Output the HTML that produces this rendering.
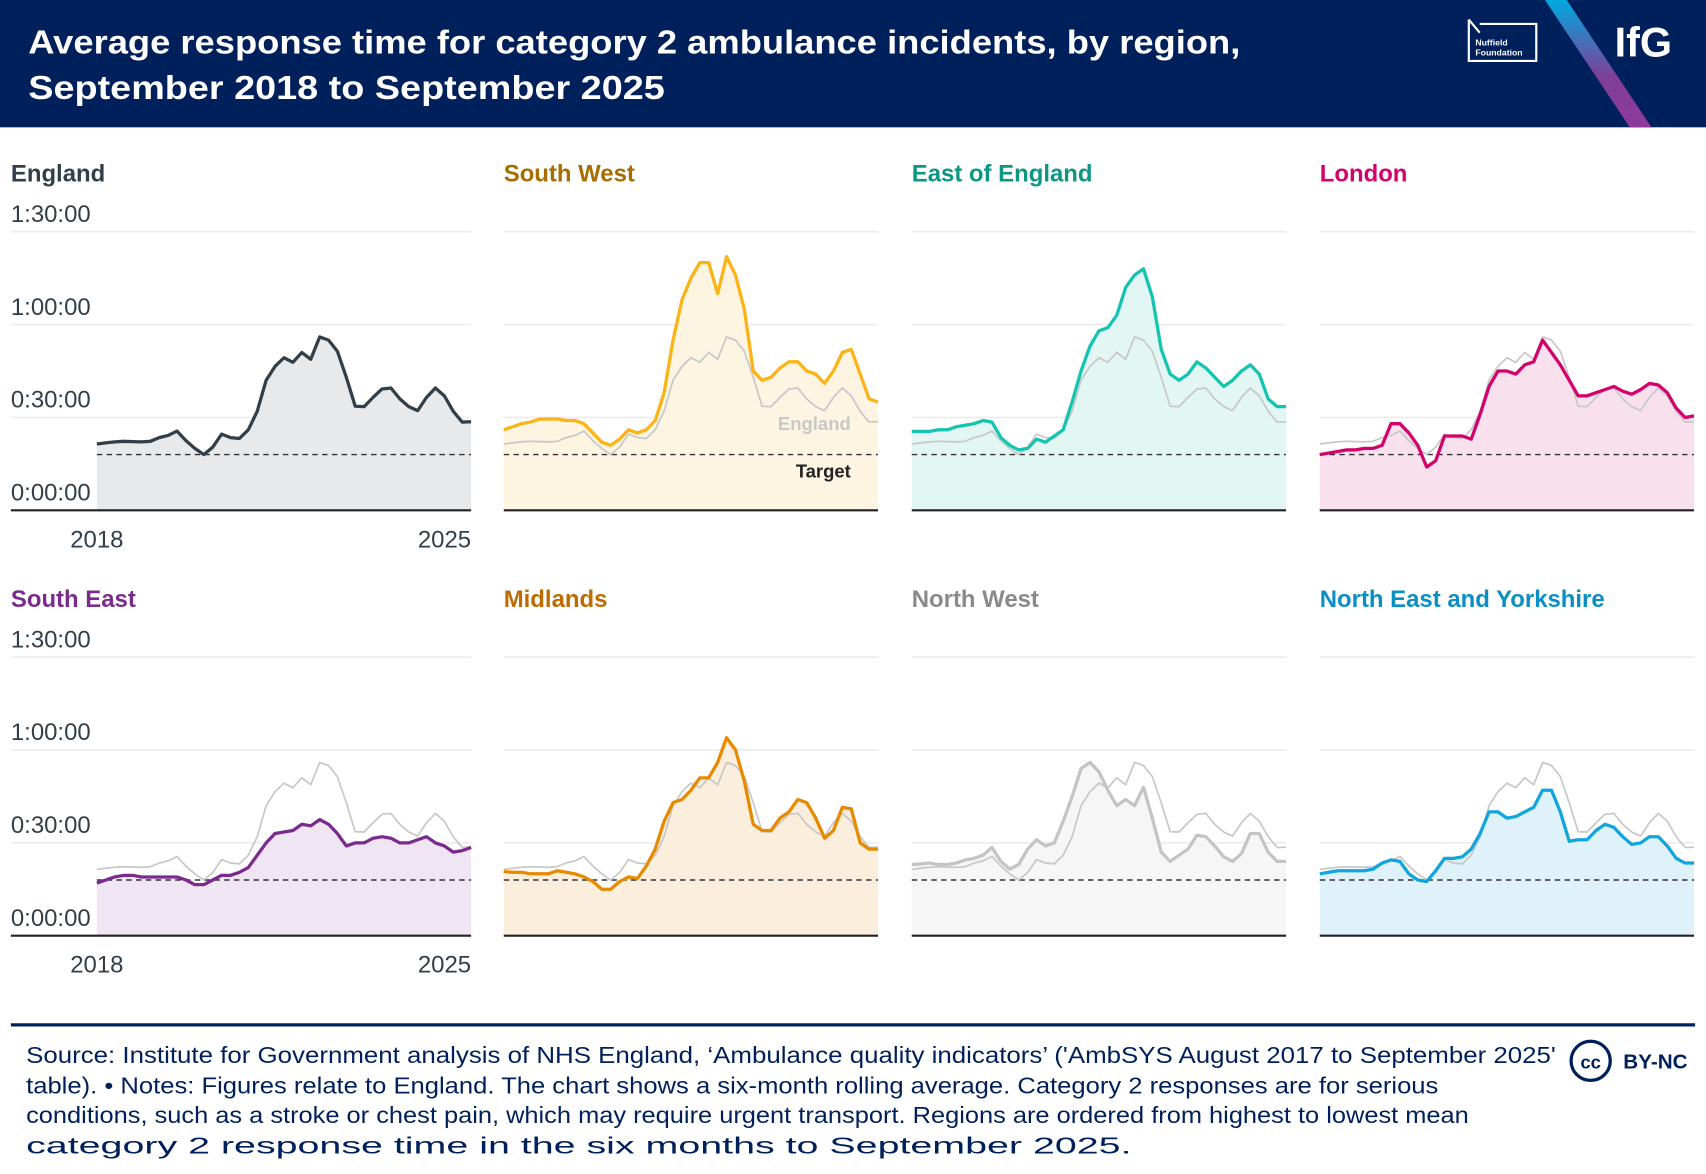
<!DOCTYPE html>
<html><head><meta charset="utf-8"><style>
html,body{margin:0;padding:0;background:#fff;}
svg{display:block;font-family:"Liberation Sans",sans-serif;}
</style></head><body>
<svg id="chart" width="1706" height="1174" viewBox="0 0 1568 1079" xmlns="http://www.w3.org/2000/svg">
<rect x="0" y="0" width="1568" height="117" fill="#00205b"/>
<text x="26" y="49" fill="#fff" font-size="31" font-weight="bold" textLength="1114" lengthAdjust="spacingAndGlyphs">Average response time for category 2 ambulance incidents, by region,</text>
<text x="26" y="91" fill="#fff" font-size="31" font-weight="bold" textLength="585" lengthAdjust="spacingAndGlyphs">September 2018 to September 2025</text>
<defs><linearGradient id="stripe" x1="0" y1="0" x2="0" y2="1"><stop offset="0" stop-color="#00a9e0"/><stop offset="0.6" stop-color="#7f3f98"/><stop offset="1" stop-color="#8e3a9a"/></linearGradient></defs>
<polygon points="1420,0 1440,0 1518,117 1498,117" fill="url(#stripe)"/>
<g>
<path d="M1350,18 L1350,56 L1412,56 L1412,22 L1360,22 M1350,18 L1360,30" fill="none" stroke="#fff" stroke-width="2"/>
<text x="1356" y="42" fill="#fff" font-size="8" font-weight="bold">Nuffield</text>
<text x="1356" y="51" fill="#fff" font-size="8" font-weight="bold">Foundation</text>
</g>
<text x="1484" y="52" fill="#fff" font-size="38" font-weight="bold">IfG</text>
<g id="panels"></g>
<line x1="10" y1="942" x2="1558" y2="942" stroke="#00205b" stroke-width="3"/>
<g fill="#00205b" font-size="21" lengthAdjust="spacingAndGlyphs">
<text x="24" y="977" textLength="1406" lengthAdjust="spacingAndGlyphs">Source: Institute for Government analysis of NHS England, ‘Ambulance quality indicators’ ('AmbSYS August 2017 to September 2025'</text>
<text x="24" y="1005" textLength="1298" lengthAdjust="spacingAndGlyphs">table). • Notes: Figures relate to England. The chart shows a six-month rolling average. Category 2 responses are for serious</text>
<text x="24" y="1032" textLength="1326" lengthAdjust="spacingAndGlyphs">conditions, such as a stroke or chest pain, which may require urgent transport. Regions are ordered from highest to lowest mean</text>
<text x="24" y="1060" textLength="1016" lengthAdjust="spacingAndGlyphs">category 2 response time in the six months to September 2025.</text>
</g>
<g>
<circle cx="1462" cy="975" r="18" fill="#fff" stroke="#00205b" stroke-width="3"/>
<text x="1462" y="982" text-anchor="middle" fill="#00205b" font-size="17" font-weight="bold">cc</text>
<text x="1492" y="982" fill="#00205b" font-size="19" font-weight="bold">BY-NC</text>
</g>
</svg>
<script>
// Bimonthly points Sep 2018 .. Sep 2025 (minutes)
const england = [21.4,21.8,22.1,22.3,22.2,22.1,22.3,23.5,24.2,25.6,22.5,20,18,20.4,24.6,23.5,23.2,26,32,42,46.5,49.3,47.8,51,48.8,56,55,51.4,43,33.6,33.5,36.5,39.2,39.5,36,33.5,32.2,36.5,39.5,37,32,28.5,28.6];
const southWest = [26,27,28,28.5,29.5,29.5,29.5,29,29,28,25,22,21,23,26,25,26,29,38,55,68,75,80,80,70,82,76,65,45,42,43,46,48,48,45,44,41,45,51,52,44,36,35];
const eastOfEngland = [25.5,25.5,25.5,26,26,27,27.5,28,29,28.5,23.5,21,19.5,20,23,22,24,26,35,45,53,58,59,63,72,76,78,69,52,44,42,44,48,46,43,40,42,45,47,44,36,33.5,33.5];
const london = [18,18.5,19,19.5,19.5,20,20,21,28,28,25,21,14,16,24,24,24,23,31,40,45,45,44,47,48,55,51,47,42,37,37,38,39,40,38.5,37.5,39,41,40.5,38,33,30,30.5];
const southEast = [17,18,19,19.5,19.5,19,19,19,19,19,18,16.5,16.5,18,19.5,19.5,20.5,22,26,30,33,33.5,34,36,35.5,37.5,36,33,29,30,30,31.5,32,31.5,30,30,31,32,30,29,27,27.5,28.5];
const midlands = [20.7,20.5,20.5,20,20,20,21,20.5,20,19,17.5,15,15,17.5,19,18.5,22.5,28,37,43,44,47,51,51,56,64,60,50,36,34,34,38,40,44,43,38,31.5,34,41.5,41,30,28,28];
const northWest = [23,23.2,23.5,23,23,23.5,24.5,25,26,28.5,24,21.5,23,28,31,29,30,37,45,54,56,53,47,42,44,42,48,38,27,24,26,28,32.5,32,29,25.5,24,26.5,33,33,27,24,24];
const northEastYorks = [20,20.5,21,21,21,21,21.5,23.5,24.5,24,20,18,17.5,21,25,25,25.5,28,33,40,40,38,38.5,40,41.5,47,47,40,30.5,31,31,34,36,35,32,29.5,30,32,32,29,25,23.5,23.5];
const yTickValues = [0,30,60,90];
const yTickLabels = ["0:00:00","0:30:00","1:00:00","1:30:00"];
const xTickLabels = ["2018","2025"];
const targetValue = 18;
const regionNames = ["England","South West","East of England","London","South East","Midlands","North West","North East and Yorkshire"];

const panels=[
 {name:"England",data:england,line:"#333f48",fill:"#e8e9ea",title:"#333f48",col:0,row:0},
 {name:"South West",data:southWest,line:"#fbb316",fill:"#fdf4e2",title:"#a86d00",col:1,row:0},
 {name:"East of England",data:eastOfEngland,line:"#13c4b0",fill:"#e2f6f4",title:"#0c9785",col:2,row:0},
 {name:"London",data:london,line:"#d4006c",fill:"#f8e1ed",title:"#d4006c",col:3,row:0},
 {name:"South East",data:southEast,line:"#7b2a8e",fill:"#efe5f3",title:"#7b2a8e",col:0,row:1},
 {name:"Midlands",data:midlands,line:"#e88a00",fill:"#fbeedd",title:"#c06b00",col:1,row:1},
 {name:"North West",data:northWest,line:"#c4c4c4",fill:"#f6f6f6",title:"#8a8a8a",col:2,row:1},
 {name:"North East and Yorkshire",data:northEastYorks,line:"#10a5de",fill:"#dff2fa",title:"#0a8fc4",col:3,row:1}
];
const NS="http://www.w3.org/2000/svg";
const root=document.getElementById('panels');
function mk(tag,attrs,parent){const e=document.createElementNS(NS,tag);for(const k in attrs)e.setAttribute(k,attrs[k]);parent.appendChild(e);return e;}
const colX=[89,463,838,1213], W=344, rowBase=[469,860], pxPerMin=256/90;
panels.forEach((p,i)=>{
  const g=mk('g',{},root);
  
  
  const x0=colX[p.col], base=rowBase[p.row];
  const gx0 = p.col===0?10:x0;
  const xs=k=>x0+k*W/(p.data.length-1);
  const ys=v=>base-v*pxPerMin;
  yTickValues.forEach((v,j)=>{ if(v===0) return;
    const l=mk('line',{x1:gx0,x2:x0+W,y1:ys(v),y2:ys(v),stroke:'#ececec','stroke-width':1.5},g);
    
    
  });
  let d='M'+xs(0)+','+base;
  p.data.forEach((v,k)=>{d+=' L'+xs(k).toFixed(1)+','+ys(v).toFixed(1);});
  d+=' L'+xs(p.data.length-1)+','+base+' Z';
  const a=mk('path',{d:d,fill:p.fill},g);
  
  
  const t=mk('line',{x1:x0,x2:x0+W,y1:ys(targetValue),y2:ys(targetValue),stroke:'#333','stroke-width':1.3,'stroke-dasharray':'5,4'},g);
  
  
  if(i>0){
    const r=mk('path',{d:'M'+england.map((v,k)=>xs(k).toFixed(1)+','+ys(v).toFixed(1)).join(' L'),fill:'none',stroke:'#c8c8c8','stroke-width':1.6,'stroke-linejoin':'round'},g);
    
    
  }
  const ln=mk('path',{d:'M'+p.data.map((v,k)=>xs(k).toFixed(1)+','+ys(v).toFixed(1)).join(' L'),fill:'none',stroke:p.line,'stroke-width':3,'stroke-linejoin':'round'},g);
  
  
  const ax=mk('line',{x1:gx0,x2:x0+W,y1:base,y2:base,stroke:'#222','stroke-width':2},g);
  
  
  const ti=mk('text',{x:p.col===0?10:x0,y:base-302,fill:p.title,'font-size':22,'font-weight':'bold'},g);
  ti.textContent=regionNames[i];
  
  
  if(p.col===0){
    yTickValues.forEach((v,j)=>{
      const tl=mk('text',{x:10,y:ys(v)-9,fill:'#333f48','font-size':22},g);
      tl.textContent=yTickLabels[j];
      
      
    });
    const a1=mk('text',{x:xs(0),y:base+34,fill:'#333f48','font-size':22,'text-anchor':'middle'},g);
    a1.textContent=xTickLabels[0];
    
    
    const a2=mk('text',{x:xs(p.data.length-1),y:base+34,fill:'#333f48','font-size':22,'text-anchor':'end'},g);
    a2.textContent=xTickLabels[1];
    
    
  }
  if(i===1){
    const el=mk('text',{x:x0+W-25,y:395,fill:'#c8c8c8','font-size':17,'font-weight':'bold','text-anchor':'end'},g);
    el.textContent='England';
    
    
    const tg=mk('text',{x:x0+W-25,y:439,fill:'#222','font-size':17,'font-weight':'bold','text-anchor':'end'},g);
    tg.textContent='Target';
    
    
  }
});
</script>
</body></html>
